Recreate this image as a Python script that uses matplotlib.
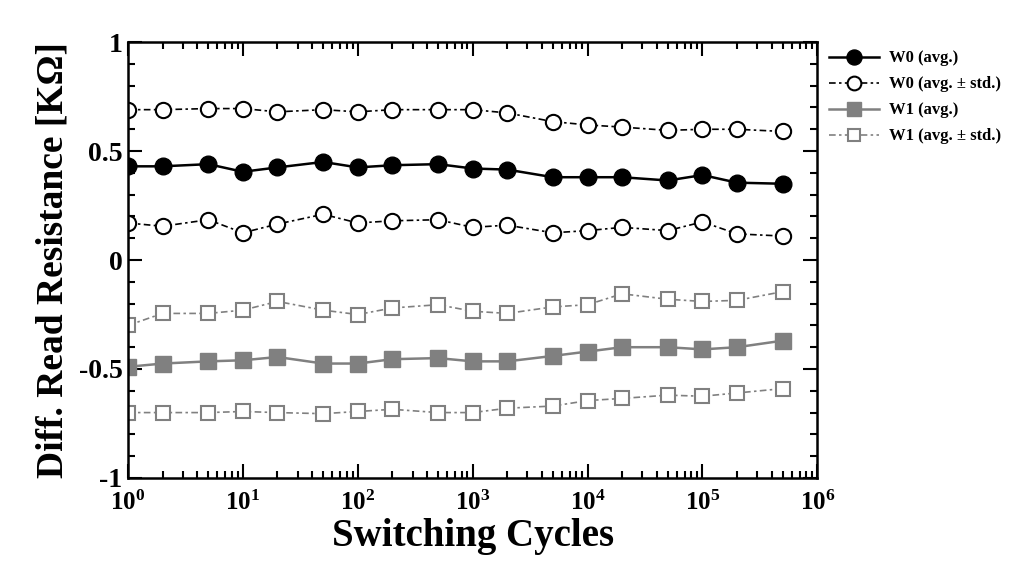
import matplotlib
matplotlib.use("Agg")
import matplotlib.pyplot as plt
from matplotlib.ticker import LogLocator, MultipleLocator, FixedLocator, NullFormatter

# switching cycles at which the resistance was measured
cycles = [1, 2, 5, 10, 20, 50, 100, 200, 500, 1e3, 2e3, 5e3, 1e4, 2e4, 5e4, 1e5, 2e5, 5e5]
decades = [1, 1e1, 1e2, 1e3, 1e4, 1e5, 1e6]
decade_labels = ["$10^{%d}$" % k for k in range(7)]

# W0 series
w0_avg = [0.43, 0.43, 0.44, 0.405, 0.425, 0.45, 0.425, 0.435, 0.44, 0.42, 0.415,
          0.38, 0.38, 0.38, 0.365, 0.39, 0.355, 0.35]
w0_hi = [0.69, 0.69, 0.695, 0.695, 0.68, 0.69, 0.68, 0.69, 0.69, 0.69, 0.675,
         0.635, 0.62, 0.61, 0.595, 0.6, 0.6, 0.59]
w0_lo = [0.17, 0.155, 0.185, 0.125, 0.165, 0.21, 0.17, 0.18, 0.185, 0.15, 0.16,
         0.125, 0.135, 0.15, 0.135, 0.175, 0.12, 0.11]

# W1 series
w1_avg = [-0.49, -0.475, -0.465, -0.46, -0.445, -0.475, -0.475, -0.455, -0.45, -0.465,
          -0.465, -0.44, -0.42, -0.4, -0.4, -0.41, -0.4, -0.37]
w1_hi = [-0.3, -0.245, -0.245, -0.23, -0.19, -0.23, -0.25, -0.22, -0.205, -0.235,
         -0.245, -0.215, -0.205, -0.155, -0.18, -0.19, -0.185, -0.145]
w1_lo = [-0.7, -0.7, -0.7, -0.695, -0.7, -0.705, -0.695, -0.685, -0.7, -0.7,
         -0.68, -0.67, -0.645, -0.635, -0.62, -0.625, -0.61, -0.59]

plt.rcParams["font.family"] = ["Liberation Serif", "DejaVu Serif"]
plt.rcParams["font.weight"] = "bold"
plt.rcParams["mathtext.fontset"] = "custom"
plt.rcParams["mathtext.rm"] = "Liberation Serif:bold"
plt.rcParams["mathtext.default"] = "rm"

fig = plt.figure(figsize=(10.32, 5.69), dpi=100)
fig.patch.set_facecolor("white")
ax = fig.add_axes([0.124, 0.16, 0.668, 0.766])

dash = (0, (4, 2, 1.5, 2))
gray = "#808080"

ax.plot(cycles, w0_avg, "-o", color="black", lw=1.8, ms=12, label="W0 (avg.)")
ax.plot(cycles, w0_hi, linestyle=dash, marker="o", color="black", lw=1.2, ms=11,
        mfc="white", mec="black", mew=1.5, label="W0 (avg. ± std.)")
ax.plot(cycles, w0_lo, linestyle=dash, marker="o", color="black", lw=1.2, ms=11,
        mfc="white", mec="black", mew=1.5)
ax.plot(cycles, w1_avg, "-s", color=gray, lw=1.8, ms=11, label="W1 (avg.)")
ax.plot(cycles, w1_hi, linestyle=dash, marker="s", color=gray, lw=1.2, ms=10,
        mfc="white", mec=gray, mew=1.5, label="W1 (avg. ± std.)")
ax.plot(cycles, w1_lo, linestyle=dash, marker="s", color=gray, lw=1.2, ms=10,
        mfc="white", mec=gray, mew=1.5)

ax.set_xscale("log")
ax.set_xlim(1, 1e6)
ax.set_ylim(-1, 1)
ax.xaxis.set_major_locator(FixedLocator(decades))
ax.set_xticklabels(decade_labels)
ax.xaxis.set_minor_locator(LogLocator(base=10, subs=range(2, 10), numticks=100))
ax.xaxis.set_minor_formatter(NullFormatter())
ax.yaxis.set_major_locator(FixedLocator([-1, -0.5, 0, 0.5, 1]))
ax.yaxis.set_minor_locator(MultipleLocator(0.1))
ax.set_yticklabels(["-1", "-0.5", "0", "0.5", "1"])
ax.tick_params(which="both", direction="in", top=True, right=True, width=1.5)
ax.tick_params(which="major", length=10)
ax.tick_params(which="minor", length=5)
ax.tick_params(axis="y", labelsize=20, pad=4)
ax.tick_params(axis="x", labelsize=18, pad=9)
for s in ax.spines.values():
    s.set_linewidth(1.8)

ax.set_xlabel("Switching Cycles", fontsize=28, fontweight="bold", labelpad=2)
ax.set_ylabel("Diff. Read Resistance [KΩ]", fontsize=27, fontweight="bold", labelpad=6)

ax.legend(loc="upper left", bbox_to_anchor=(1.005, 1.0), frameon=False, fontsize=12,
          handlelength=3.0, handletextpad=0.6, labelspacing=0.6, borderaxespad=0.1,
          markerscale=0.9)

fig.savefig("out.png", dpi=100)
